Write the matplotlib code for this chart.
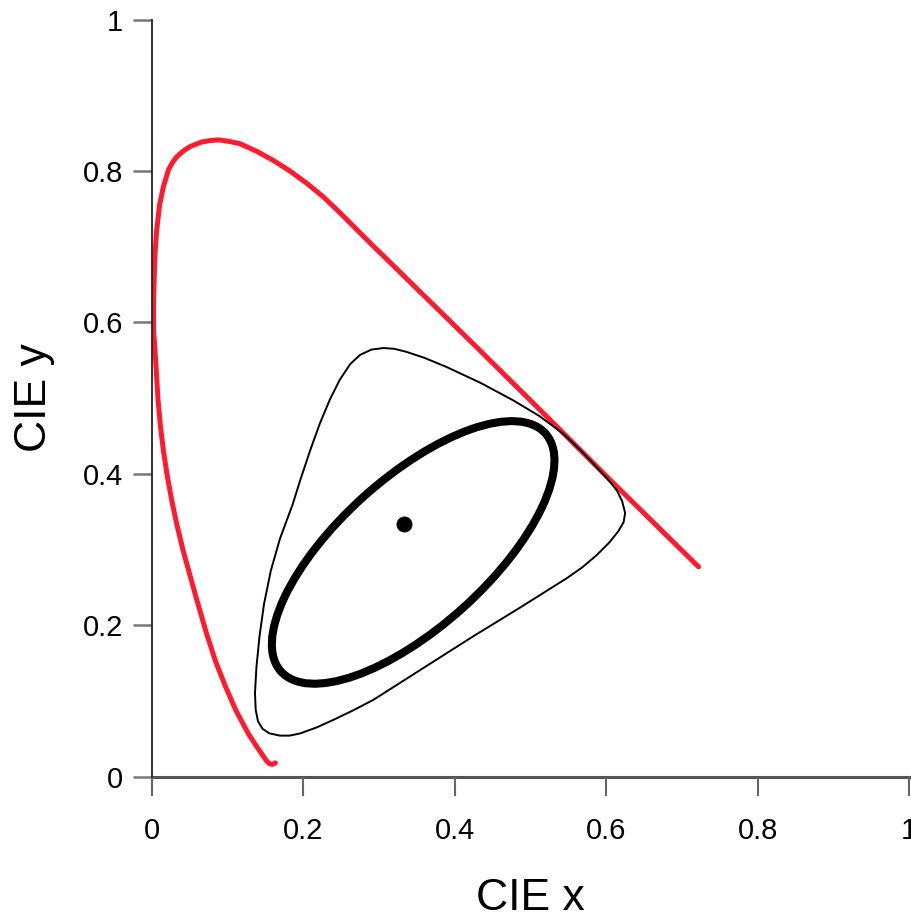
import numpy as np
import matplotlib
matplotlib.use("Agg")
import matplotlib.pyplot as plt
from matplotlib.patches import Ellipse

# spectral locus (red), right end -> bottom end
locus_x = [0.722, 0.609, 0.530, 0.433, 0.380, 0.336, 0.310, 0.292, 0.270, 0.248,
           0.226, 0.204, 0.182, 0.160, 0.138, 0.116, 0.102, 0.088, 0.076, 0.065,
           0.050, 0.041, 0.033, 0.027, 0.022, 0.015, 0.010, 0.006, 0.004, 0.003,
           0.002, 0.002, 0.004, 0.006, 0.008, 0.011, 0.015, 0.020, 0.026, 0.033,
           0.041, 0.049, 0.058, 0.072, 0.084, 0.097, 0.111, 0.127, 0.138, 0.147,
           0.151, 0.155, 0.159, 0.163]
locus_y = [0.277, 0.388, 0.467, 0.563, 0.615, 0.658, 0.6835, 0.701, 0.723, 0.745,
           0.766, 0.784, 0.800, 0.814, 0.826, 0.836, 0.839, 0.841, 0.840, 0.838,
           0.832, 0.826, 0.819, 0.811, 0.802, 0.779, 0.755, 0.720, 0.691, 0.660,
           0.629, 0.590, 0.563, 0.530, 0.497, 0.464, 0.431, 0.398, 0.365, 0.332,
           0.299, 0.270, 0.2375, 0.189, 0.152, 0.119, 0.087, 0.057, 0.040, 0.027,
           0.021, 0.017, 0.016, 0.018]

# thin rounded-triangle gamut
gamut_x = [0.306, 0.290, 0.275, 0.262, 0.248, 0.235, 0.222, 0.209, 0.196, 0.186,
           0.169, 0.157, 0.148, 0.142, 0.138, 0.136, 0.137, 0.140, 0.146, 0.155,
           0.169, 0.182, 0.196, 0.218, 0.240, 0.265, 0.292, 0.358, 0.424, 0.486,
           0.548, 0.568, 0.587, 0.604, 0.616, 0.623, 0.625, 0.621, 0.614, 0.601,
           0.587, 0.566, 0.543, 0.512, 0.477, 0.434, 0.389, 0.360, 0.336, 0.320,
           0.306]
gamut_y = [0.566, 0.564, 0.557, 0.545, 0.524, 0.498, 0.467, 0.431, 0.392, 0.360,
           0.314, 0.272, 0.228, 0.185, 0.145, 0.110, 0.088, 0.073, 0.063, 0.057,
           0.054, 0.054, 0.057, 0.065, 0.075, 0.087, 0.101, 0.143, 0.185, 0.223,
           0.262, 0.276, 0.292, 0.309, 0.324, 0.336, 0.348, 0.364, 0.378, 0.394,
           0.409, 0.431, 0.453, 0.476, 0.497, 0.520, 0.541, 0.553, 0.561, 0.565,
           0.566]

# thick ellipse: centre, full width/height, tilt (deg)
ell_center = (0.345, 0.296)
ell_width = 0.470
ell_height = 0.197
ell_angle = 42.0

white_x = [1/3]
white_y = [1/3]

ticks = [0, 0.2, 0.4, 0.6, 0.8, 1]
tick_labels = ["0", "0.2", "0.4", "0.6", "0.8", "1"]

plt.rcParams['font.family'] = ['Liberation Sans', 'DejaVu Sans']

fig = plt.figure(figsize=(9.11, 9.22), dpi=100)
ax = fig.add_axes([152/911, 1-776.5/922, 757/911, 757/922])

ax.plot(locus_x, locus_y, color='#ff1a2e', lw=3.6, solid_capstyle='round', solid_joinstyle='round')
ax.plot(gamut_x, gamut_y, color='black', lw=1.4, solid_joinstyle='round')
ax.add_patch(Ellipse(ell_center, ell_width, ell_height, angle=ell_angle,
                     fill=False, edgecolor='black', lw=5.8))
ax.plot(white_x, white_y, 'o', color='black', ms=10.5)

ax.set_xlim(0, 1)
ax.set_ylim(0, 1)
ax.set_xticks(ticks)
ax.set_xticklabels(tick_labels)
ax.set_yticks(ticks)
ax.set_yticklabels(tick_labels)

for s in ['top', 'right']:
    ax.spines[s].set_visible(False)
ax.spines['bottom'].set_color('#555555')
ax.spines['bottom'].set_linewidth(2.2)
ax.spines['left'].set_color('#222222')
ax.spines['left'].set_linewidth(1.3)
ax.spines['bottom'].set_zorder(0)

ax.tick_params(axis='x', length=14, width=1.5, color='#666666', pad=15, labelsize=21)
ax.tick_params(axis='y', length=14, width=1.8, color='#777777', pad=7, labelsize=21)

ax.set_xlabel('CIE x', fontsize=32, labelpad=24)
ax.set_ylabel('CIE y', fontsize=32, labelpad=20)

fig.savefig("out.png", dpi=100)
